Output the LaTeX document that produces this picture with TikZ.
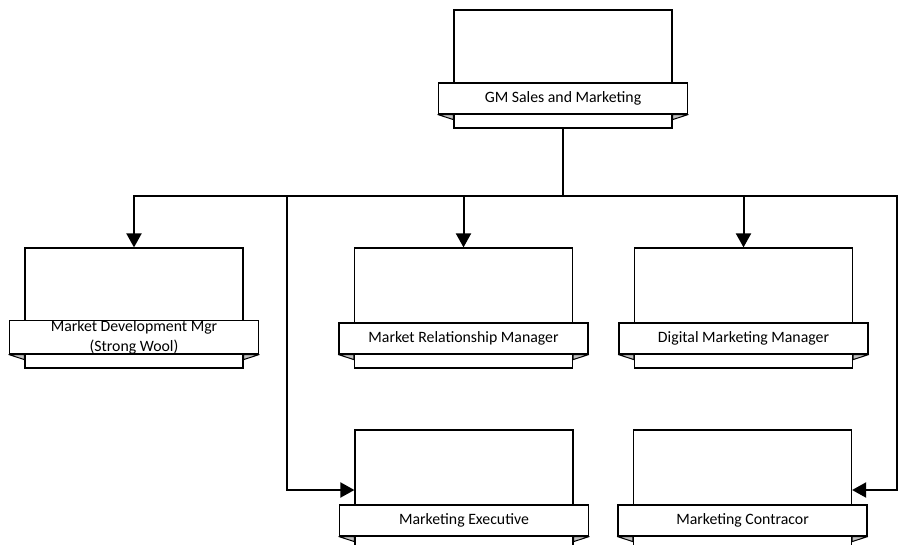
\documentclass[tikz,border=0pt]{standalone}
\usepackage{fontspec}
\setmainfont{Carlito}
\usetikzlibrary{arrows.meta,positioning,calc}
\tikzset{>={Triangle[length=14pt,width=15pt]}}
\tikzset{
  post/.style={draw, fill=white, line width=1.2pt, minimum width=218pt,
    minimum height=120pt, inner sep=0pt},
  banner/.style={draw, fill=white, line width=1.2pt, minimum width=249pt,
    minimum height=31pt, inner sep=0pt, align=center,
    font=\fontsize{15.8}{20}\selectfont},
  fold/.style={fill=black!25, draw=black, line width=1pt, line join=round},
  link/.style={line width=2pt},
}
% ribbon with its two folded ends, laid over a post
\newcommand{\bannerfor}[2]{%
  \node[banner, above=14pt of #1.south] (#1-b) {#2};
  \filldraw[fold] (#1-b.south west) -- (#1-b.south west -| #1.west) -- ++(0,-5) -- cycle;
  \filldraw[fold] (#1-b.south east) -- (#1-b.south east -| #1.east) -- ++(0,-5) -- cycle;
}

\begin{document}
\begin{tikzpicture}[x=1pt,y=1pt]
      \useasboundingbox (0,0) rectangle (899,-544);
      % posts
      \node[post, minimum height=118pt] (gm) at (563,-69) {};
      \node[post] (mdm) at (134,-308) {};
      \node[post] (mrm) at (463.5,-308) {};
      \node[post] (dmm) at (743.5,-308) {};
      \node[post] (me) at (464,-490) {};
      \node[post] (mc) at (742.5,-490) {};
      % ribbons
      \bannerfor{gm}{GM Sales and Marketing}
      \bannerfor{mdm}{Market Development Mgr\\(Strong Wool)}
      \bannerfor{mrm}{Market Relationship Manager}
      \bannerfor{dmm}{Digital Marketing Manager}
      \bannerfor{me}{Marketing Executive}
      \bannerfor{mc}{Marketing Contracor}
      % connectors
      \coordinate (bus) at ($(gm.south)+(0,-67)$);
      \draw[link] (gm.south) -- (bus);
      \draw[link,->] (bus) -| (mdm.north);
      \draw[link,->] (bus) -| (mrm.north);
      \draw[link,->] (bus) -| (dmm.north);
      \draw[link,->] (bus) -- ++(-276,0) |- (me.west);
      \draw[link,->] (bus) -- ++(334,0) |- (mc.east);
    \end{tikzpicture}
\end{document}
